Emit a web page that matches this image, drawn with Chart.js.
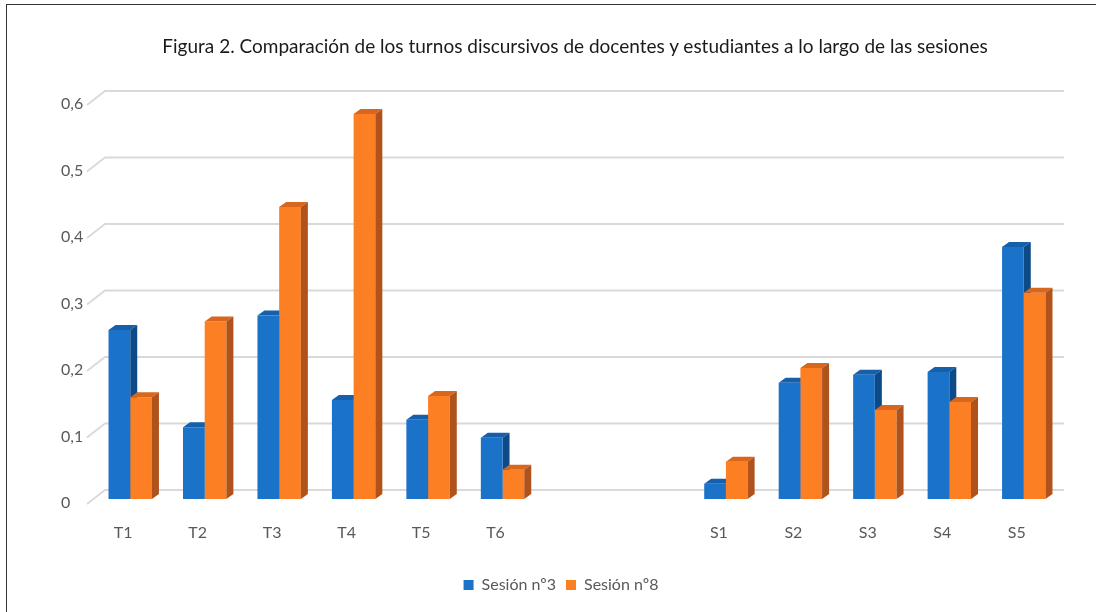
<!DOCTYPE html>
<html>
<head>
<meta charset="utf-8">
<script src="https://cdn.jsdelivr.net/npm/chart.js@4/dist/chart.umd.min.js"></script>
<style>
  html, body { margin: 0; padding: 0; background: #ffffff; }
  #wrap { position: relative; width: 1096px; height: 612px; overflow: hidden; }
  #frame { position: absolute; left: 6px; top: 4px; right: -4px; bottom: -4px; border-top: 1.5px solid #333; border-left: 1.5px solid #333; pointer-events: none; }
  #title { position: absolute; left: 0; top: 33px; width: 1150px; text-align: center; font-family: Lato, "Open Sans", sans-serif; font-size: 19px; line-height: 26px; color: #1a1a1a; }
  canvas { position: absolute; left: 0; top: 0; }
</style>
</head>
<body>
<div id="wrap">
  <canvas id="c" width="1096" height="612"></canvas>
  <div id="title">Figura 2. Comparación de los turnos discursivos de docentes y estudiantes a lo largo de las sesiones</div>
  <div id="frame"></div>
</div>
<script>
const categories = ['T1', 'T2', 'T3', 'T4', 'T5', 'T6', '', '', 'S1', 'S2', 'S3', 'S4', 'S5'];
const seriesNames = ['Sesión nº3', 'Sesión nº8'];
const sesion3 = [0.254, 0.108, 0.276, 0.149, 0.119, 0.092, null, null, 0.023, 0.175, 0.187, 0.191, 0.379];
const sesion8 = [0.153, 0.267, 0.439, 0.579, 0.155, 0.044, null, null, 0.056, 0.197, 0.134, 0.146, 0.310];
const yTickValues = [0, 0.1, 0.2, 0.3, 0.4, 0.5, 0.6];
const yTickLabels = ['0', '0,1', '0,2', '0,3', '0,4', '0,5', '0,6'];

const FRONT = ['#1a72c9', '#fd7f24'];
const TOP = ['#155fab', '#d8661c'];
const SIDE = ['#0d4a88', '#b0521b'];
const DX = 7, DY = 5;

function drawFaces(ctx, meta, di) {
  meta.data.forEach((el) => {
    const p = el.getProps(['x', 'y', 'base', 'width'], true);
    if (p.y == null || isNaN(p.y) || Math.abs(p.base - p.y) < 0.01) return;
    const l = p.x - p.width / 2, r = p.x + p.width / 2;
    ctx.fillStyle = TOP[di];
    ctx.beginPath();
    ctx.moveTo(l, p.y); ctx.lineTo(l + DX, p.y - DY); ctx.lineTo(r + DX, p.y - DY); ctx.lineTo(r, p.y);
    ctx.closePath(); ctx.fill();
    ctx.fillStyle = SIDE[di];
    ctx.beginPath();
    ctx.moveTo(r, p.y); ctx.lineTo(r + DX, p.y - DY); ctx.lineTo(r + DX, p.base - DY); ctx.lineTo(r, p.base);
    ctx.closePath(); ctx.fill();
  });
}

const threeD = {
  id: 'threeD',
  beforeDatasetsDraw(chart) {
    const ctx = chart.ctx;
    const ys = chart.scales.y, xs = chart.scales.x;
    ctx.save();
    ctx.strokeStyle = '#d9d9d9';
    ctx.lineWidth = 1.8;
    yTickValues.forEach((v) => {
      const yb = ys.getPixelForValue(v);
      ctx.beginPath();
      ctx.moveTo(xs.left - 6, yb + 5);
      ctx.lineTo(xs.left + 12, yb - 9);
      ctx.lineTo(xs.right + 3, yb - 9);
      ctx.stroke();
    });
    drawFaces(ctx, chart.getDatasetMeta(0), 0);
    ctx.restore();
  },
  afterDatasetsDraw(chart) {
    const ctx = chart.ctx;
    ctx.save();
    drawFaces(ctx, chart.getDatasetMeta(1), 1);
    ctx.restore();
  }
};

const labelFont = { family: 'Lato, "Open Sans", sans-serif', size: 16 };

new Chart(document.getElementById('c'), {
  type: 'bar',
  data: {
    labels: categories,
    datasets: [
      { label: seriesNames[0], data: sesion3, backgroundColor: FRONT[0], borderWidth: 0 },
      { label: seriesNames[1], data: sesion8, backgroundColor: FRONT[1], borderWidth: 0 }
    ]
  },
  options: {
    responsive: false,
    animation: false,
    events: [],
    datasets: { bar: { categoryPercentage: 0.583, barPercentage: 1.0 } },
    layout: { padding: { left: 61, right: 35, top: 100, bottom: 9 } },
    plugins: {
      title: { display: false },
      tooltip: { enabled: false },
      legend: {
        position: 'bottom',
        labels: { boxWidth: 10, boxHeight: 10, color: '#595959', font: labelFont, padding: 10 }
      }
    },
    scales: {
      x: {
        grid: { display: false, drawTicks: false },
        border: { display: false },
        ticks: { autoSkip: false, maxRotation: 0, color: '#595959', font: labelFont, padding: 24, labelOffset: -7 },
        afterFit(s) { s.height = 68; }
      },
      y: {
        min: 0, max: 0.6,
        grid: { display: false, drawTicks: false },
        border: { display: false },
        ticks: {
          stepSize: 0.1, crossAlign: 'far', color: '#595959', font: labelFont, labelOffset: 4,
          callback: (v, i) => yTickLabels[i]
        },
        afterFit(s) { s.width = 32; }
      }
    }
  },
  plugins: [threeD]
});
</script>
</body>
</html>
